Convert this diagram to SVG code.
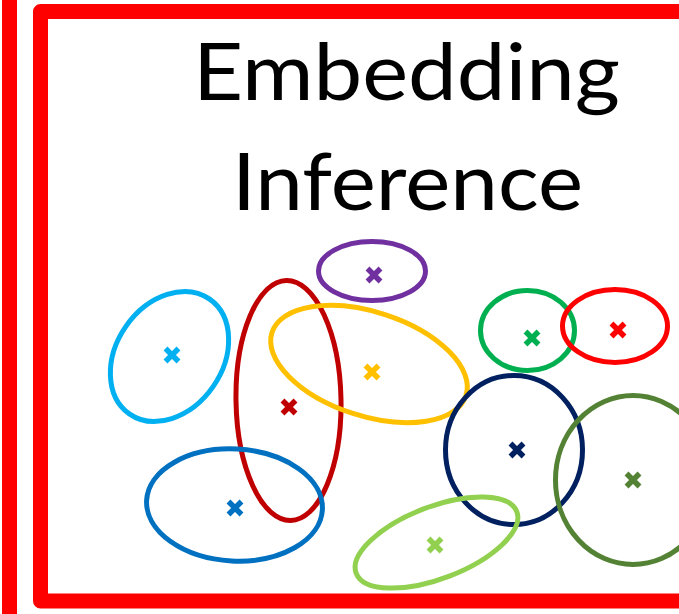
<svg xmlns="http://www.w3.org/2000/svg" width="679" height="614" viewBox="0 0 679 614">
<defs>
<style>
.ell{fill:none;stroke-width:5}
.title{font-family:Lato,"Liberation Sans",sans-serif;font-size:80px;fill:#000}
</style>
<path id="x" d="M-6.5,-6.5L6.5,6.5M6.5,-6.5L-6.5,6.5" stroke-width="5.5" fill="none"/>
</defs>
<rect width="679" height="614" fill="#fff"/>
<g id="frame">
<rect x="2" y="0" width="15" height="614" fill="#ff0000"/>
<path d="M700,11.5H40.5V601H700" fill="none" stroke="#ff0000" stroke-width="15" stroke-linejoin="round"/>
</g>
<g id="title">
<text class="title" x="193" y="100" textLength="427" lengthAdjust="spacingAndGlyphs">Embedding</text>
<text class="title" x="232" y="210" textLength="351" lengthAdjust="spacingAndGlyphs">Inference</text>
</g>
<g id="c-lightblue" stroke="#00b0f0"><ellipse class="ell" cx="169.5" cy="356.5" rx="53" ry="70" transform="rotate(35 169.5 356.5)"/><use href="#x" x="172" y="355"/></g>
<g id="c-darkred" stroke="#c00000"><ellipse class="ell" cx="288.5" cy="400.5" rx="52.5" ry="120" transform="rotate(-1 288.5 400.5)"/><use href="#x" x="289" y="407"/></g>
<g id="c-purple" stroke="#7030a0"><ellipse class="ell" cx="372" cy="271" rx="53.5" ry="29.5"/><use href="#x" x="374" y="275"/></g>
<g id="c-yellow" stroke="#ffc000"><ellipse class="ell" cx="369" cy="364" rx="102" ry="52" transform="rotate(18 369 364)"/><use href="#x" x="372" y="372"/></g>
<g id="c-green" stroke="#00b050"><ellipse class="ell" cx="527.5" cy="330.5" rx="47" ry="40"/><use href="#x" x="532" y="338"/></g>
<g id="c-red" stroke="#ff0000"><ellipse class="ell" cx="615" cy="326" rx="52.5" ry="36.5"/><use href="#x" x="618" y="330"/></g>
<g id="c-navy" stroke="#002060"><ellipse class="ell" cx="514" cy="450" rx="68.5" ry="74.5"/><use href="#x" x="517" y="450"/></g>
<g id="c-olive" stroke="#548235"><ellipse class="ell" cx="633" cy="480" rx="77.5" ry="84.5"/><use href="#x" x="633" y="480"/></g>
<g id="c-lightgreen" stroke="#92d050"><ellipse class="ell" cx="436.5" cy="542.5" rx="86" ry="36" transform="rotate(-21 436.5 542.5)"/><use href="#x" x="435" y="545"/></g>
<g id="c-blue" stroke="#0070c0"><ellipse class="ell" cx="234.5" cy="505" rx="88" ry="56" transform="rotate(3 234.5 505)"/><use href="#x" x="235" y="508"/></g>
</svg>
